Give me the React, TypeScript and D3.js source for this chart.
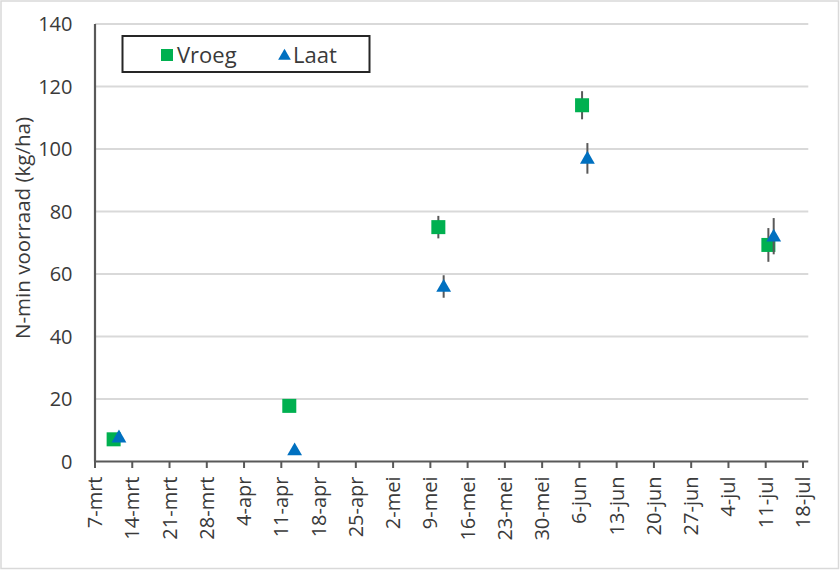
import React from "react";
import * as d3 from "d3";

const seriesNames = ["Vroeg", "Laat"];
const vroegDates = ["2021-03-10T12:00:00Z", "2021-04-12T12:00:00Z", "2021-05-10T12:00:00Z", "2021-06-06T12:00:00Z", "2021-07-11T12:00:00Z"];
const vroegValues = [7.1, 17.8, 75, 114, 69.3];
const vroegErrors = [0, 0, 3.6, 4.5, 5.4];
const laatDates = ["2021-03-11T12:00:00Z", "2021-04-13T12:00:00Z", "2021-05-11T12:00:00Z", "2021-06-07T12:00:00Z", "2021-07-12T12:00:00Z"];
const laatValues = [7.8, 3.7, 56, 97, 72.1];
const laatErrors = [0, 0, 3.6, 4.9, 5.8];
const yTicks = [0, 20, 40, 60, 80, 100, 120, 140];
const monthNames = ["jan", "feb", "mrt", "apr", "mei", "jun", "jul", "aug", "sep", "okt", "nov", "dec"];
const xStart = "2021-03-07T00:00:00Z";
const xEnd = "2021-07-19T00:00:00Z";
const xTickCount = 20;
const yLabel = "N-min voorraad (kg/ha)";

const W = 840;
const H = 571;
const FONT = "'Open Sans', 'Noto Sans', sans-serif";
const GREEN = "#00b050";
const BLUE = "#0070c0";
const AXIS = "#595959";
const GRID = "#d9d9d9";
const TEXT = "#3a3a3a";

export default function App() {
  const start = new Date(xStart);
  const x = d3.scaleUtc().domain([start, new Date(xEnd)]).range([95, 808.3]);
  const y = d3.scaleLinear().domain([0, 140]).range([461.5, 24]);
  const xTicks = d3.range(xTickCount).map((i) => d3.utcDay.offset(start, i * 7));
  const fmt = (d: Date) => `${d.getUTCDate()}-${monthNames[d.getUTCMonth()]}`;

  const vroeg = vroegDates.map((d, i) => ({ d: new Date(d), v: vroegValues[i], e: vroegErrors[i] }));
  const laat = laatDates.map((d, i) => ({ d: new Date(d), v: laatValues[i], e: laatErrors[i] }));
  const sq = 14;
  const tri = d3.symbol().type(d3.symbolTriangle).size(95)();

  const [x0, x1] = x.range();

  return (
    <svg width={W} height={H} style={{ position: "absolute", left: 0, top: 0 }} fontFamily={FONT}>
      <rect x={0} y={0} width={W} height={H} fill="#fff" />
      <rect x={1} y={1} width={837.5} height={567.5} fill="none" stroke={GRID} strokeWidth={1.5} />
      {yTicks.filter((t) => t > 0).map((t) => (
        <line key={t} x1={x0} x2={x1} y1={y(t)} y2={y(t)} stroke={GRID} strokeWidth={2} />
      ))}
      {yTicks.map((t) => (
        <text key={t} x={72.5} y={y(t)} dy="0.35em" textAnchor="end" fontSize={20} fill={TEXT}>
          {t}
        </text>
      ))}
      <text transform={`translate(23,228) rotate(-90)`} textAnchor="middle" dy="0.35em" fontSize={20.5} fill={TEXT}>
        {yLabel}
      </text>
      {xTicks.map((t) => (
        <g key={+t} transform={`translate(${x(t)},0)`}>
          <line y1={y(0)} y2={y(0) + 6.5} stroke={AXIS} strokeWidth={2} />
          <text transform={`translate(0,${y(0) + 15}) rotate(-90)`} textAnchor="end" dy="0.35em" fontSize={20} fill={TEXT}>
            {fmt(t)}
          </text>
        </g>
      ))}
      <line x1={x0} x2={x0} y1={y(140)} y2={y(0)} stroke={AXIS} strokeWidth={2.2} />
      <line x1={x0 - 1} x2={x1} y1={y(0)} y2={y(0)} stroke={AXIS} strokeWidth={2.2} />
      <g>
        {vroeg.map((p, i) =>
          p.e > 0 ? (
            <line key={"e" + i} x1={x(p.d)} x2={x(p.d)} y1={y(p.v - p.e)} y2={y(p.v + p.e)} stroke={AXIS} strokeWidth={2} />
          ) : null
        )}
        {vroeg.map((p, i) => (
          <rect key={i} x={x(p.d) - sq / 2} y={y(p.v) - sq / 2} width={sq} height={sq} fill={GREEN} />
        ))}
      </g>
      <g>
        {laat.map((p, i) =>
          p.e > 0 ? (
            <line key={"e" + i} x1={x(p.d)} x2={x(p.d)} y1={y(p.v - p.e)} y2={y(p.v + p.e)} stroke={AXIS} strokeWidth={2} />
          ) : null
        )}
        {laat.map((p, i) => (
          <path key={i} d={tri!} transform={`translate(${x(p.d)},${y(p.v) + 1})`} fill={BLUE} />
        ))}
      </g>
      <rect x={122.5} y={36} width={247} height={36} fill="#fff" stroke="#262626" strokeWidth={2} />
      <rect x={161} y={49} width={12} height={12} fill={GREEN} />
      <text x={177} y={55} dy="0.35em" fontSize={22} fill={TEXT}>{seriesNames[0]}</text>
      <path d={d3.symbol().type(d3.symbolTriangle).size(70)()!} transform="translate(284.5,56)" fill={BLUE} />
      <text x={293} y={55} dy="0.35em" fontSize={22} fill={TEXT}>{seriesNames[1]}</text>
    </svg>
  );
}
